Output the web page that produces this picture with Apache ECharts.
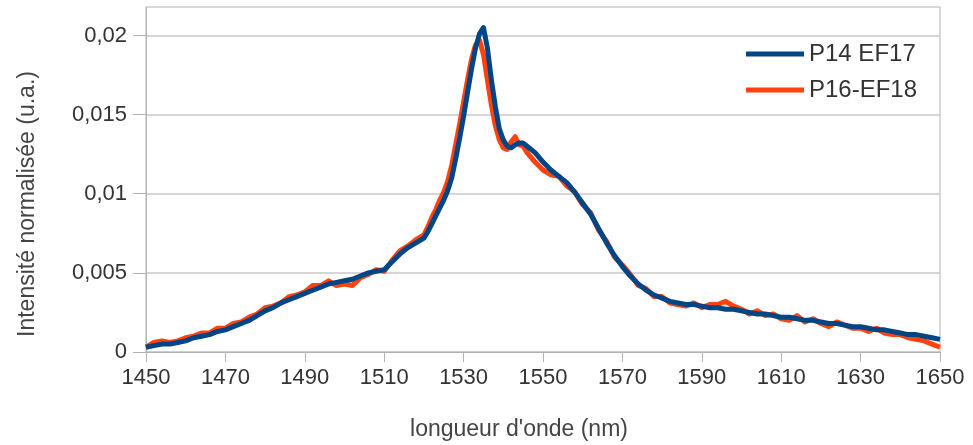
<!DOCTYPE html>
<html><head><meta charset="utf-8">
<script src="https://cdn.jsdelivr.net/npm/echarts@6/dist/echarts.min.js"></script>
<style>html,body{margin:0;padding:0;background:#fff}#c{width:973px;height:445px}</style>
</head><body><div id="c"></div>
<script>
const wavelengths = [
1450,1452,1454,1456,1458,1460,1462,1464,1466,1468,1470,1472,1474,1476,1478,1480,1482,1484,1486,1488,
1490,1492,1494,1496,1498,1500,1502,1504,1506,1508,1510,1512,1514,1516,1518,1520,
1521,1522,1523,1524,1525,1526,1527,1528,1529,1530,1531,1532,1533,1534,1535,1536,1537,1538,1539,1540,
1541,1542,1543,1544,1545,
1546,1548,1550,1552,1554,1556,1558,1560,1562,1564,1566,1568,1570,1572,1574,1576,1578,1580,1582,1584,
1586,1588,1590,1592,1594,1596,1598,1600,1602,1604,1606,1608,1610,1612,1614,1616,1618,1620,1622,1624,
1626,1628,1630,1632,1634,1636,1638,1640,1642,1644,1646,1648,1650];

const p14ef17 = [
.0003,.0004,.0005,.0005,.0006,.0007,.0009,.0010,.0011,.0013,.0014,.0016,.0018,.0020,.0023,.0026,.0028,.0031,.0033,.0035,
.0037,.0039,.0041,.0043,.0044,.0045,.0046,.0048,.0050,.0051,.0052,.0057,.0062,.0066,.0069,.0072,
.0076,.0081,.0086,.0091,.0096,.0102,.0110,.0122,.0135,.0149,.0164,.0179,.0192,.0201,.0205,.0192,.0172,.0155,.0141,.0134,
.0130,.0129,.0131,.0132,.0132,
.0130,.0126,.0120,.0115,.0111,.0107,.0101,.0094,.0087,.0078,.0069,.0061,.0054,.0048,.0043,.0039,.0036,.0034,.0032,.0031,
.0030,.0030,.0029,.0028,.0028,.0027,.0027,.0026,.0025,.0024,.0024,.0023,.0022,.0022,.0021,.0020,.0020,.0019,.0018,.0018,
.0017,.0016,.0016,.0015,.0014,.0014,.0013,.0012,.0011,.0011,.0010,.0009,.0008];

const p16ef18 = [
.0003,.0006,.0007,.0006,.0007,.0009,.0010,.0012,.0012,.0015,.0015,.0018,.0019,.0022,.0024,.0028,.0029,.0031,.0035,.0036,
.0038,.0042,.0042,.0045,.0042,.0043,.0042,.0047,.0049,.0052,.0051,.0058,.0064,.0067,.0071,.0074,
.0079,.0085,.0090,.0096,.0101,.0108,.0118,.0131,.0144,.0158,.0172,.0185,.0194,.0197,.0188,.0172,.0156,.0143,.0134,.0129,
.0128,.0133,.0136,.0131,.0130,
.0126,.0120,.0115,.0112,.0111,.0105,.0101,.0093,.0088,.0077,.0070,.0060,.0055,.0049,.0042,.0040,.0035,.0035,.0031,.0030,
.0029,.0031,.0028,.0030,.0030,.0032,.0029,.0027,.0024,.0026,.0023,.0024,.0021,.0020,.0023,.0019,.0021,.0018,.0016,.0019,
.0017,.0015,.0015,.0013,.0015,.0012,.0011,.0011,.0009,.0008,.0007,.0005,.0003];

const seriesNames = ['P14 EF17', 'P16-EF18'];
const yTickValues = [0, 0.005, 0.01, 0.015, 0.02];
const xTickValues = [1450,1470,1490,1510,1530,1550,1570,1590,1610,1630,1650];
const xAxisTitle = "longueur d'onde (nm)";
const yAxisTitle = 'Intensité normalisée (u.a.)';

const pairs = (ys) => wavelengths.map((w, i) => [w, ys[i]]);
const FONT = 'Liberation Sans';
const chart = echarts.init(document.getElementById('c'), null, {renderer: 'canvas'});
chart.setOption({
  animation: false,
  backgroundColor: '#fff',
  grid: {left: 146, right: 33, top: 7, bottom: 93, show: true, borderColor: '#b3b3b3', borderWidth: 1},
  legend: {
    orient: 'vertical', left: 741, top: 37, itemGap: 12,
    itemWidth: 58, itemHeight: 5, icon: 'rect', itemTextGap: 7,
    data: seriesNames,
    textStyle: {fontFamily: FONT, fontSize: 24, color: '#333'}
  },
  xAxis: {
    type: 'value', min: 1450, max: 1650, interval: 20,
    axisLine: {lineStyle: {color: '#b3b3b3'}},
    axisTick: {show: true, length: 10, lineStyle: {color: '#b3b3b3'}, customValues: xTickValues},
    axisLabel: {fontFamily: FONT, fontSize: 22, color: '#333', margin: 15, customValues: xTickValues,
      formatter: (v) => String(v)},
    splitLine: {show: false}
  },
  yAxis: {
    type: 'value', min: 0, max: 0.0218, interval: 0.005,
    axisLine: {show: true, lineStyle: {color: '#b3b3b3'}},
    axisTick: {show: true, length: 13, lineStyle: {color: '#b3b3b3'}, customValues: yTickValues},
    axisLabel: {fontFamily: FONT, fontSize: 22, color: '#333', margin: 19, customValues: yTickValues,
      formatter: (v) => String(+v.toFixed(4)).replace('.', ',')},
    splitLine: {show: true, lineStyle: {color: '#c8c8c8', width: 1.5}}
  },
  graphic: [
    {type: 'text', x: 28, y: 204, rotation: Math.PI / 2,
     style: {text: yAxisTitle, fontFamily: FONT, fontSize: 23, fill: '#444', align: 'center', verticalAlign: 'middle'}},
    {type: 'text', x: 519, y: 430,
     style: {text: xAxisTitle, fontFamily: FONT, fontSize: 23, fill: '#444', align: 'center', verticalAlign: 'middle'}}
  ],
  series: [
    {name: seriesNames[1], type: 'line', data: pairs(p16ef18), showSymbol: false, symbol: 'none',
     lineStyle: {color: '#ff420e', width: 5, join: 'round'}, itemStyle: {color: '#ff420e'}, z: 2},
    {name: seriesNames[0], type: 'line', data: pairs(p14ef17), showSymbol: false, symbol: 'none',
     lineStyle: {color: '#004586', width: 5, join: 'round'}, itemStyle: {color: '#004586'}, z: 3}
  ]
});
</script></body></html>
